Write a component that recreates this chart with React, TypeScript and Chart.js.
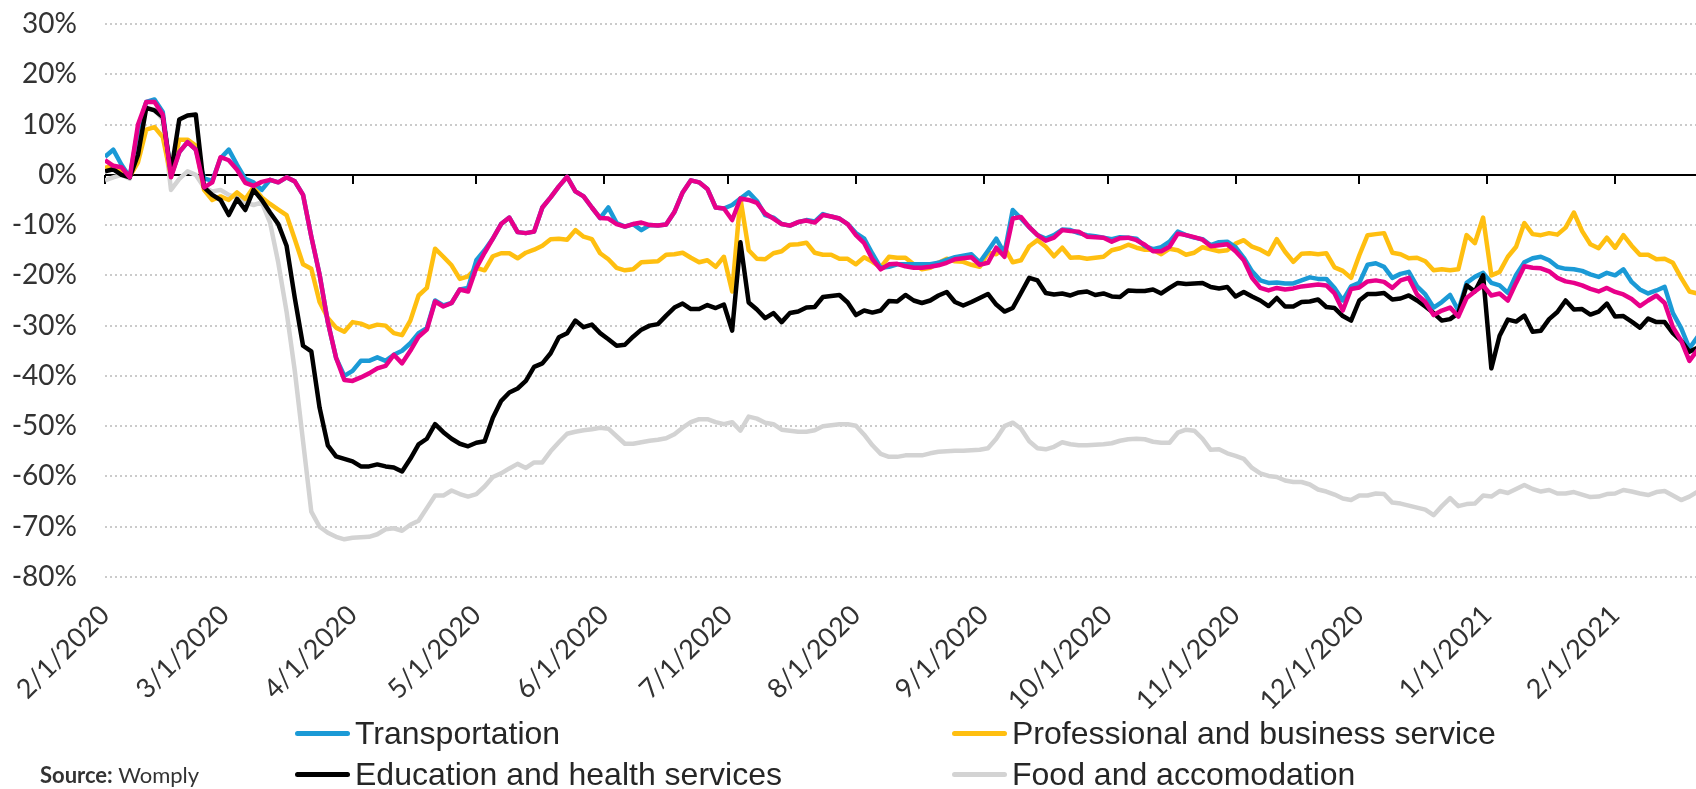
import React, { useEffect, useRef } from 'react';
import { Chart, registerables } from 'chart.js';

Chart.register(...registerables);

// Day offsets from 2/1/2020 (sampled every second day)
const DAYS = [
  0, 2, 4, 6, 8, 10, 12, 14, 16, 18, 20, 22, 24, 26, 28, 30, 32, 34, 36, 38, 40, 42, 44, 46, 48, 50, 52, 54, 56, 58, 60, 62, 64, 66, 68, 70, 72, 74, 76,
  78, 80, 82, 84, 86, 88, 90, 92, 94, 96, 98, 100, 102, 104, 106, 108, 110, 112, 114, 116, 118, 120, 122, 124, 126, 128, 130, 132, 134, 136, 138, 140, 142, 144, 146, 148, 150, 152, 154,
  156, 158, 160, 162, 164, 166, 168, 170, 172, 174, 176, 178, 180, 182, 184, 186, 188, 190, 192, 194, 196, 198, 200, 202, 204, 206, 208, 210, 212, 214, 216, 218, 220, 222, 224, 226, 228, 230, 232,
  234, 236, 238, 240, 242, 244, 246, 248, 250, 252, 254, 256, 258, 260, 262, 264, 266, 268, 270, 272, 274, 276, 278, 280, 282, 284, 286, 288, 290, 292, 294, 296, 298, 300, 302, 304, 306, 308, 310,
  312, 314, 316, 318, 320, 322, 324, 326, 328, 330, 332, 334, 336, 338, 340, 342, 344, 346, 348, 350, 352, 354, 356, 358, 360, 362, 364, 366, 368, 370, 372, 374, 376, 378, 380, 382, 384, 386,
];

const MONTH_DAYS = [0, 29, 60, 90, 121, 151, 182, 213, 243, 274, 304, 335, 366];
const MONTH_LABELS = [
  '2/1/2020', '3/1/2020', '4/1/2020', '5/1/2020', '6/1/2020', '7/1/2020', '8/1/2020',
  '9/1/2020', '10/1/2020', '11/1/2020', '12/1/2020', '1/1/2021', '2/1/2021',
];

const TRANSPORTATION = [
  3.6, 5.0, 2.0, -0.5, 9, 14.5, 15, 12.5, -0.2, 4.5, 6.5, 5, -0.7, -1.2, 3.3, 5, 2, -0.8, -1.5, -3, -1, -1.5, -0.5, -1.3, -4, -12.3, -19.8, -29.3, -36.4, -40, -39, -37, -37, -36.3, -37, -35.8, -35, -33.5, -31.5,
  -30.5, -25, -26, -25.5, -22.8, -22.5, -17, -15, -12.7, -9.8, -8.5, -11.4, -11.6, -11.3, -6.5, -4.5, -2.3, -0.4, -3.3, -4.3, -6.5, -8.6, -6.5, -9.6, -10.3, -9.8, -11, -10, -10.1, -9.9, -7.4, -3.5, -1.1, -1.5, -2.8, -6.5, -6.7, -6, -4.7,
  -3.5, -5.2, -8, -8.5, -9.8, -10.1, -9.4, -9, -9.3, -7.8, -8.3, -8.7, -9.8, -11.6, -12.7, -15.7, -18.5, -18.3, -17.8, -17.8, -17.8, -17.8, -17.8, -17.5, -16.9, -16.4, -16.1, -15.8, -17.4, -15.1, -12.7, -15.6, -7, -8.7, -10.4, -12, -12.7, -12, -10.9,
  -11, -11.6, -12, -12.2, -12.5, -12.8, -12.4, -12.5, -12.7, -14.2, -14.8, -14.4, -13.3, -11.3, -12, -12.5, -12.8, -14, -13.4, -13.3, -14.4, -16.5, -19.2, -21, -21.5, -21.4, -21.6, -21.6, -21, -20.4, -20.7, -20.7, -22.5, -25, -22.2, -21.5, -17.9, -17.6, -18.3,
  -20.5, -19.7, -19.3, -22.2, -23.8, -26.4, -25.3, -23.9, -27, -21.5, -20.3, -19.5, -21.5, -22, -23.5, -19.9, -17.4, -16.6, -16.3, -17, -18.3, -18.7, -18.8, -19.1, -19.8, -20.3, -19.5, -20, -18.8, -21.3, -22.8, -23.6, -23, -22.3, -27.5, -30.5, -34.5, -32.2,
];

const PROFESSIONAL = [
  1.4, 1.8, 0.8, -0.3, 2.5, 9, 9.5, 7.5, -0.4, 7, 7, 5.8, -3, -5, -4.3, -5, -3.5, -4.8, -2.5, -4.5, -5.8, -6.9, -8, -12.8, -17.8, -18.7, -25.3, -28.5, -30.4, -31.2, -29.3, -29.6, -30.3, -29.8, -30, -31.5, -31.9, -29, -24,
  -22.5, -14.7, -16.3, -18, -20.7, -20.2, -18.5, -19, -16.2, -15.6, -15.6, -16.6, -15.5, -14.9, -14.1, -12.8, -12.7, -12.9, -11, -12.3, -12.8, -15.6, -16.8, -18.5, -19, -18.8, -17.4, -17.3, -17.2, -15.9, -15.8, -15.5, -16.5, -17.4, -17, -18.3, -16.3, -23.2, -4.7,
  -15, -16.7, -16.8, -15.6, -15.2, -13.9, -13.8, -13.5, -15.5, -15.9, -15.9, -16.7, -16.7, -17.8, -16.4, -17.3, -18.4, -16.3, -16.5, -16.5, -17.8, -18.8, -18.5, -17.5, -16.7, -17.2, -17.3, -17.9, -18.3, -15.5, -15.8, -14.5, -17.4, -17, -14.2, -13, -14.3, -16.2, -14.5,
  -16.5, -16.4, -16.7, -16.5, -16.3, -15, -14.6, -13.9, -14.5, -14.9, -14.9, -15.8, -14.7, -15, -15.9, -15.5, -14.4, -14.8, -15.2, -15, -13.7, -13, -14.3, -14.9, -15.8, -12.8, -15.3, -17.3, -15.7, -15.6, -15.8, -15.6, -18.4, -19.1, -20.5, -16, -12, -11.8, -11.6,
  -15.5, -15.8, -16.6, -16.5, -17.2, -19, -18.8, -19, -18.8, -12, -13.6, -8.5, -20, -19.3, -16.3, -14.3, -9.6, -11.8, -12, -11.6, -11.9, -10.5, -7.5, -11.2, -13.8, -14.6, -12.5, -14.5, -12, -14.1, -15.9, -15.9, -16.8, -16.7, -17.5, -20.5, -23.2, -23.6,
];

const EDUCATION = [
  0.7, 1.1, 0, -0.5, 4, 13.3, 12.8, 11.5, 0.5, 11, 11.8, 12, -2.5, -4, -5, -8, -4.8, -7, -3, -5, -7.5, -9.8, -14.1, -24.5, -34, -35.1, -46.3, -53.8, -56, -56.5, -57, -58, -58, -57.6, -58, -58.2, -59, -56.5, -53.6,
  -52.5, -49.6, -51.2, -52.5, -53.5, -54, -53.3, -53, -48.3, -45, -43.3, -42.5, -41, -38.2, -37.5, -35.5, -32.3, -31.5, -29, -30.3, -29.8, -31.5, -32.7, -34, -33.8, -32.2, -30.8, -30, -29.7, -28, -26.4, -25.6, -26.7, -26.7, -25.9, -26.5, -25.8, -31, -13.4,
  -25.4, -26.8, -28.5, -27.5, -29.3, -27.5, -27.2, -26.4, -26.3, -24.3, -24.1, -23.9, -25.4, -27.9, -27, -27.4, -27, -25.1, -25.2, -23.9, -25, -25.5, -25, -24, -23.3, -25.3, -26, -25.3, -24.5, -23.7, -25.8, -27.2, -26.5, -23.5, -20.5, -21, -23.5, -23.8, -23.6,
  -24, -23.4, -23.2, -23.9, -23.6, -24.2, -24.3, -23, -23.1, -23.1, -22.8, -23.6, -22.5, -21.5, -21.7, -21.6, -21.5, -22.3, -22.6, -22.3, -24.2, -23.3, -24.2, -25, -26.1, -24.5, -26.2, -26.2, -25.3, -25.2, -24.8, -26.3, -26.5, -28.1, -29, -25, -23.7, -23.7, -23.5,
  -24.8, -24.6, -24, -25, -26.2, -27.5, -29, -28.7, -27.5, -22, -23.2, -20, -38.5, -32, -28.8, -29.2, -28, -31.2, -31, -28.7, -27.3, -25, -26.8, -26.7, -27.8, -27.2, -25.6, -28.2, -28.1, -29.2, -30.4, -28.6, -29.3, -29.3, -31.5, -33, -35.2, -34.4,
];

const FOOD = [
  -1.1, -0.5, 0, -0.8, 8, 13.2, 13, 11, -3, -0.8, 0.7, 0, -2.5, -3.3, -3, -4, -4.5, -5.5, -6, -5.5, -9.5, -17.5, -27.2, -39, -53, -67, -70, -71.2, -72, -72.5, -72.2, -72.1, -72, -71.5, -70.5, -70.3, -70.8, -69.6, -68.8,
  -66.3, -63.8, -63.8, -62.8, -63.5, -64, -63.5, -62, -60.1, -59.4, -58.4, -57.5, -58.3, -57.2, -57.2, -55, -53.2, -51.5, -51.1, -50.8, -50.6, -50.3, -50.5, -52, -53.5, -53.5, -53.2, -52.9, -52.7, -52.4, -51.6, -50.3, -49.2, -48.6, -48.6, -49.2, -49.6, -49.2, -50.9,
  -48.1, -48.5, -49.3, -49.6, -50.7, -50.9, -51.1, -51.1, -50.8, -50, -49.8, -49.6, -49.6, -49.9, -51.7, -53.8, -55.5, -56.1, -56.1, -55.8, -55.8, -55.8, -55.4, -55.1, -55, -54.9, -54.9, -54.8, -54.7, -54.4, -52.5, -50, -49.3, -50.5, -53, -54.4, -54.6, -54.1, -53.2,
  -53.6, -53.8, -53.8, -53.7, -53.6, -53.4, -52.9, -52.6, -52.5, -52.6, -53.1, -53.3, -53.3, -51.3, -50.7, -50.9, -52.5, -54.7, -54.6, -55.4, -55.9, -56.5, -58.3, -59.4, -59.9, -60.1, -60.8, -61.1, -61.1, -61.6, -62.6, -63, -63.6, -64.4, -64.7, -63.8, -63.8, -63.4, -63.5,
  -65.2, -65.4, -65.8, -66.2, -66.6, -67.7, -65.9, -64.3, -65.9, -65.5, -65.4, -63.8, -64, -62.9, -63.3, -62.5, -61.7, -62.5, -63, -62.7, -63.4, -63.4, -63.1, -63.6, -64.1, -64, -63.5, -63.4, -62.7, -63, -63.4, -63.7, -63.1, -62.9, -63.8, -64.7, -64, -63,
];

// Fifth (magenta) series shown in the chart without a legend entry
const OTHER = [
  2.9, 1.8, 1.5, -0.5, 10, 14.5, 14.5, 12, -0.5, 4.5, 6.5, 5, -2.5, -1.5, 3.5, 2.9, 1, -1.6, -2.2, -1.4, -1, -1.5, -0.5, -1.3, -4, -12.3, -19.8, -29.3, -36.4, -40.8, -41, -40.3, -39.5, -38.5, -38, -35.8, -37.5, -35, -32.2,
  -30.8, -25.2, -26.2, -25.5, -22.8, -23.2, -18.5, -15.5, -12.7, -9.8, -8.5, -11.4, -11.6, -11.3, -6.5, -4.5, -2.3, -0.4, -3.3, -4.3, -6.5, -8.6, -8.7, -9.8, -10.3, -9.8, -9.5, -10, -10.1, -9.9, -7.4, -3.5, -1.1, -1.5, -2.8, -6.5, -6.7, -9, -4.7,
  -5, -5.6, -7.7, -8.7, -9.8, -10.1, -9.4, -9.1, -9.5, -8, -8.3, -8.7, -9.8, -12, -13.6, -16.8, -18.8, -17.8, -17.7, -18.2, -18.5, -18.5, -18.3, -18, -17.5, -16.8, -16.6, -16.4, -17.9, -17.5, -14.5, -16.3, -8.7, -8.4, -10.4, -12, -13.1, -12.5, -11,
  -11.2, -11.3, -12.3, -12.4, -12.5, -13.3, -12.6, -12.5, -13, -13.9, -15.2, -15.2, -14.3, -11.7, -12, -12.4, -12.9, -14.2, -14, -13.8, -15.2, -17, -20.5, -22.5, -23, -22.5, -22.8, -22.6, -22.2, -22, -21.8, -22, -23.6, -27, -22.7, -22.4, -21.2, -21, -21.3,
  -22.5, -21, -20.5, -23.8, -25.3, -27.9, -27, -26.4, -28.2, -24.5, -23.2, -22, -24, -23.6, -25, -21.5, -18.2, -18.5, -18.6, -19.2, -20.5, -21.2, -21.5, -22, -22.7, -23.2, -22.5, -23.3, -23.8, -24.7, -26.1, -25, -24, -25.5, -30.3, -33, -37, -34.8,
];

const Y_MIN = -80;
const Y_MAX = 30;
const X_MAX = 385.6;

const BLUE = '#1b9ad6';
const YELLOW = '#ffbf10';
const BLACK = '#000000';
const GRAY = '#d3d3d3';
const MAGENTA = '#e8008a';

const toPoints = (vals: number[]) => vals.map((v, i) => ({ x: DAYS[i], y: v }));

const gridPlugin = {
  id: 'customGrid',
  beforeDatasetsDraw(chart: any) {
    const { ctx, chartArea, scales } = chart;
    const ys = scales.y;
    const xs = scales.x;
    ctx.save();
    ctx.lineWidth = 2;
    ctx.strokeStyle = '#cbcbcb';
    ctx.setLineDash([2, 3]);
    ys.ticks.forEach((t: any) => {
      if (t.value === 0) return;
      const py = Math.round(ys.getPixelForValue(t.value));
      ctx.beginPath();
      ctx.moveTo(chartArea.left, py);
      ctx.lineTo(chartArea.right, py);
      ctx.stroke();
    });
    ctx.setLineDash([]);
    const y0 = Math.round(ys.getPixelForValue(0));
    ctx.strokeStyle = '#000';
    ctx.lineWidth = 2;
    ctx.beginPath();
    ctx.moveTo(chartArea.left, y0);
    ctx.lineTo(chartArea.right, y0);
    ctx.stroke();
    xs.ticks.forEach((t: any) => {
      const px = Math.round(xs.getPixelForValue(t.value));
      ctx.beginPath();
      ctx.moveTo(px, y0);
      ctx.lineTo(px, y0 + 9);
      ctx.stroke();
    });
    ctx.restore();
  },
};

const LEGEND = [
  { label: 'Transportation', color: BLUE, left: 295, top: 733 },
  { label: 'Education and health services', color: BLACK, left: 295, top: 774 },
  { label: 'Professional and business service', color: YELLOW, left: 952, top: 733 },
  { label: 'Food and accomodation', color: GRAY, left: 952, top: 774 },
];

export default function App() {
  const ref = useRef<HTMLCanvasElement>(null);

  useEffect(() => {
    if (!ref.current) return;
    const line = (label: string, data: number[], color: string, order: number) => ({
      label,
      data: toPoints(data),
      borderColor: color,
      backgroundColor: color,
      borderWidth: 4.5,
      pointRadius: 0,
      tension: 0,
      borderJoinStyle: 'round' as const,
      order,
    });
    const chart = new Chart(ref.current, {
      type: 'line',
      data: {
        datasets: [
          line('Other', OTHER, MAGENTA, 0),
          line('Education and health services', EDUCATION, BLACK, 1),
          line('Transportation', TRANSPORTATION, BLUE, 2),
          line('Professional and business service', PROFESSIONAL, YELLOW, 3),
          line('Food and accomodation', FOOD, GRAY, 4),
        ],
      },
      options: {
        animation: false,
        responsive: false,
        layout: { padding: { top: 24, right: 0, bottom: 0, left: 0 } },
        plugins: { legend: { display: false }, tooltip: { enabled: false } },
        scales: {
          x: {
            type: 'linear',
            min: 0,
            max: X_MAX,
            grid: { display: false },
            border: { display: false },
            afterBuildTicks: (scale: any) => {
              scale.ticks = MONTH_DAYS.map((v) => ({ value: v }));
            },
            afterFit: (scale: any) => {
              scale.height = 212;
            },
            ticks: {
              autoSkip: false,
              minRotation: 45,
              maxRotation: 45,
              padding: 14,
              color: '#333333',
              font: { family: 'Lato', size: 27 },
              callback: (_v: any, i: number) => MONTH_LABELS[i],
            },
          },
          y: {
            min: Y_MIN,
            max: Y_MAX,
            grid: {
              display: true,
              drawOnChartArea: false,
              drawTicks: true,
              tickLength: 28,
              tickColor: 'rgba(0,0,0,0)',
            },
            border: { display: false },
            afterFit: (scale: any) => {
              scale.width = 105;
            },
            ticks: {
              stepSize: 10,
              padding: 0,
              color: '#333333',
              font: { family: 'Lato', size: 28 },
              callback: (v: any) => `${v}%`,
            },
          },
        },
      },
      plugins: [gridPlugin],
    });
    return () => chart.destroy();
  }, []);

  return (
    <div style={{ position: 'fixed', left: 0, top: 0, width: 1696, height: 789, background: '#fff', overflow: 'hidden' }}>
      <canvas ref={ref} width={1696} height={789} style={{ position: 'absolute', left: 0, top: 0, width: 1696, height: 789 }} />
      {LEGEND.map((item) => (
        <div
          key={item.label}
          style={{
            position: 'absolute',
            left: item.left,
            top: item.top - 20,
            height: 40,
            display: 'flex',
            alignItems: 'center',
            whiteSpace: 'nowrap',
          }}
        >
          <span style={{ display: 'inline-block', width: 55, height: 5, borderRadius: 3, background: item.color, marginRight: 5 }} />
          <span style={{ fontFamily: "'Liberation Sans', Arial, sans-serif", fontSize: 32, color: '#262626', lineHeight: '40px' }}>{item.label}</span>
        </div>
      ))}
      <div
        style={{
          position: 'absolute',
          left: 40,
          top: 761,
          fontFamily: 'Lato, sans-serif',
          fontSize: 22,
          color: '#333333',
          lineHeight: '28px',
          whiteSpace: 'nowrap',
        }}
      >
        <b>Source:</b> Womply
      </div>
    </div>
  );
}
